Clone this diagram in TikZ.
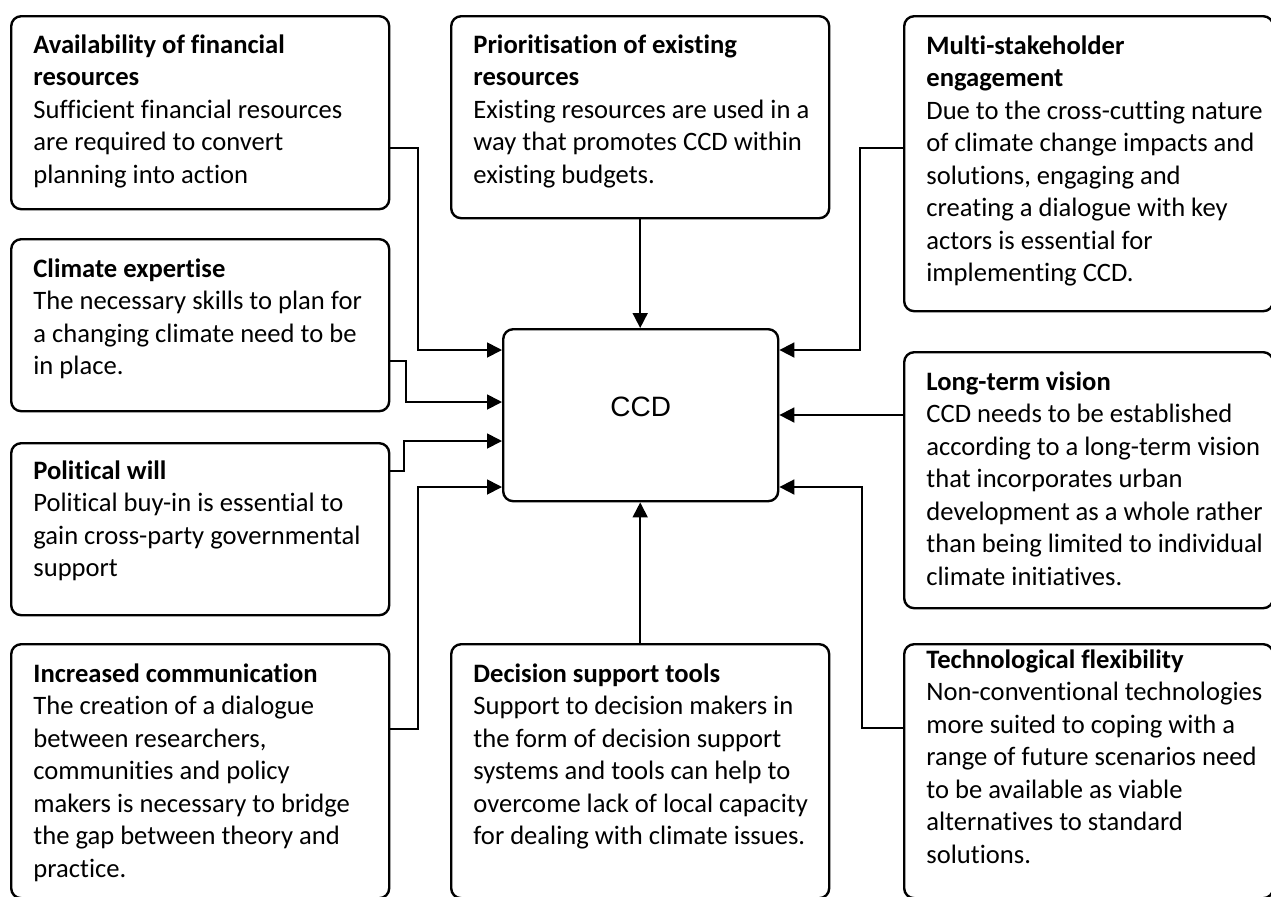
\documentclass[tikz,border=0pt]{standalone}
\usepackage{fontspec}
\setmainfont{Carlito}[Ligatures=NoCommon]
\newfontfamily\ccdfont{Liberation Sans}
\usetikzlibrary{arrows.meta}

\tikzset{
	factor/.style={draw, line width=1.2pt, rounded corners=5pt, anchor=north west,
		minimum width=189pt, inner sep=0pt},
	factortext/.style={anchor=base west, text width=180pt, align=flush left, inner sep=0pt,
		font=\fontsize{13.3}{16.25}\selectfont},
	link/.style={line width=0.9pt, -{Triangle[length=7.5pt,width=7.5pt]}},
}

\begin{document}
\begin{tikzpicture}[x=0.5pt, y=-0.5pt]
		\useasboundingbox (0,0) rectangle (1271,896);
		\clip (0,0) rectangle (1271,896);

		% boxes, left column
		\node[factor, minimum height=96.5pt] (fin) at (10,15) {};
		\node[factortext] (fintext) at ([shift={(23,38)}]fin.north west)
			{\textbf{Availability of financial}\\\textbf{resources}\\Sufficient financial resources\\are required to convert\\planning into action};
		\node[factor, minimum height=86pt] (expert) at (10,238) {};
		\node[factortext] (experttext) at ([shift={(23,39)}]expert.north west)
			{\textbf{Climate expertise}\\The necessary skills to plan for\\a changing climate need to be\\in place.};
		\node[factor, minimum height=86pt] (will) at (10,442) {};
		\node[factortext] (willtext) at ([shift={(23,37)}]will.north west)
			{\textbf{Political will}\\Political buy-in is essential to\\gain cross-party governmental\\support};
		\node[factor, minimum height=127pt] (comm) at (10,643) {};
		\node[factortext] (commtext) at ([shift={(23,39)}]comm.north west)
			{\textbf{Increased communication}\\The creation of a dialogue\\between researchers,\\communities and policy\\makers is necessary to bridge\\the gap between theory and\\practice.};

		% boxes, middle column
		\node[factor, minimum height=101pt] (prio) at (450,15) {};
		\node[factortext] (priotext) at ([shift={(23,38)}]prio.north west)
			{\textbf{Prioritisation of existing}\\\textbf{resources}\\Existing resources are used in a\\way that promotes CCD within\\existing budgets.};
		\node[factor, minimum width=137.5pt, minimum height=86pt] (ccd) at (502,328) {};
		\node[font=\ccdfont\fontsize{14}{16}\selectfont] (ccdlabel) at ([yshift=4pt]ccd.center) {CCD};
		\node[factor, minimum height=127pt] (dst) at (450,643) {};
		\node[factortext] (dsttext) at ([shift={(23,39)}]dst.north west)
			{\textbf{Decision support tools}\\Support to decision makers in\\the form of decision support\\systems and tools can help to\\overcome lack of local capacity\\for dealing with climate issues.};

		% boxes, right column
		\node[factor, minimum width=184.5pt, minimum height=147.5pt] (multi) at (903,15) {};
		\node[factortext] (multitext) at ([shift={(23,39)}]multi.north west)
			{\textbf{Multi-stakeholder}\\\textbf{engagement}\\Due to the cross-cutting nature\\of climate change impacts and\\solutions, engaging and\\creating a dialogue with key\\actors is essential for\\implementing CCD.};
		\node[factor, minimum width=184.5pt, minimum height=128pt] (vision) at (903,351) {};
		\node[factortext] (visiontext) at ([shift={(23,39)}]vision.north west)
			{\textbf{Long-term vision}\\CCD needs to be established\\according to a long-term vision\\that incorporates urban\\development as a whole rather\\than being limited to individual\\climate initiatives.};
		\node[factor, minimum width=184.5pt, minimum height=127pt] (tech) at (903,643) {};
		\node[factortext] (techtext) at ([shift={(23,25)}]tech.north west)
			{\textbf{Technological flexibility}\\Non-conventional technologies\\more suited to coping with a\\range of future scenarios need\\to be available as viable\\alternatives to standard\\solutions.};

		% connectors into CCD
		\draw[link] (fin.east |- 0,148) -| (418,350) -- (ccd.west |- 0,350);
		\draw[link] (expert.east |- 0,361) -| (406,402) -- (ccd.west |- 0,402);
		\draw[link] (will.east |- 0,471) -| (404,441) -- (ccd.west |- 0,441);
		\draw[link] (comm.east |- 0,729) -| (418,487) -- (ccd.west |- 0,487);
		\draw[link] (prio.south) -- (ccd.north -| prio.south);
		\draw[link] (dst.north) -- (ccd.south -| dst.north);
		\draw[link] (multi.west |- 0,148) -| (860,350) -- (ccd.east |- 0,350);
		\draw[link] (vision.west |- 0,415) -- (ccd.east |- 0,415);
		\draw[link] (tech.west |- 0,728) -| (862,487) -- (ccd.east |- 0,487);
	\end{tikzpicture}
\end{document}
